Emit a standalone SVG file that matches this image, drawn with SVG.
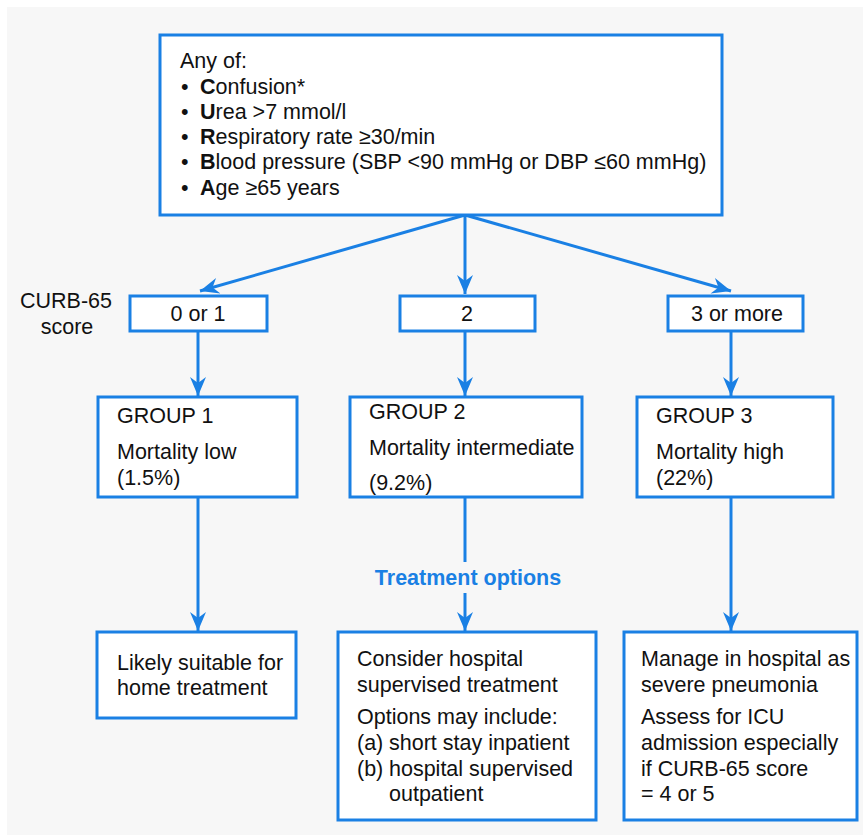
<svg xmlns="http://www.w3.org/2000/svg" width="863" height="835" viewBox="0 0 863 835">
<style>
.box{fill:#fff;stroke:#1a80e4;stroke-width:3}
.t{font-family:"Liberation Sans",Arial,sans-serif;font-size:21.5px;fill:#111}
.c{stroke:#1a80e4;stroke-width:3;fill:none}
.lbl{font-family:"Liberation Sans",Arial,sans-serif;font-size:21.5px;font-weight:bold;fill:#1a80e4}
</style>
<defs>
<marker id="ah" markerUnits="userSpaceOnUse" markerWidth="24" markerHeight="20" refX="20" refY="8" orient="auto">
<path d="M20,8 L1,0 L7,8 L1,16 Z" fill="#1a80e4"/>
</marker>
</defs>
<rect x="0" y="0" width="863" height="835" fill="#fff"/>
<rect x="7" y="7" width="856" height="828" fill="#f7f7f7"/>

<g id="connectors">
<line class="c" x1="465" y1="215" x2="200" y2="291" marker-end="url(#ah)"/>
<line class="c" x1="465" y1="215" x2="465" y2="294" marker-end="url(#ah)"/>
<line class="c" x1="465" y1="215" x2="731" y2="291" marker-end="url(#ah)"/>
<line class="c" x1="198" y1="331" x2="198" y2="396" marker-end="url(#ah)"/>
<line class="c" x1="465" y1="331" x2="465" y2="396" marker-end="url(#ah)"/>
<line class="c" x1="731" y1="331" x2="731" y2="396" marker-end="url(#ah)"/>
<line class="c" x1="198" y1="497" x2="198" y2="631" marker-end="url(#ah)"/>
<line class="c" x1="465" y1="497" x2="465" y2="562"/>
<line class="c" x1="465" y1="593" x2="465" y2="631" marker-end="url(#ah)"/>
<line class="c" x1="731" y1="497" x2="731" y2="631" marker-end="url(#ah)"/>
<text class="lbl" x="468" y="585" text-anchor="middle">Treatment options</text>
</g>

<g id="criteria">
<rect class="box" x="160" y="35" width="562" height="180"/>
<text class="t" x="180" y="68">Any of:</text>
<text class="t" x="181" y="94">•</text>
<text class="t" x="200" y="94"><tspan font-weight="bold">C</tspan>onfusion*</text>
<text class="t" x="181" y="119">•</text>
<text class="t" x="200" y="119"><tspan font-weight="bold">U</tspan>rea &gt;7 mmol/l</text>
<text class="t" x="181" y="144">•</text>
<text class="t" x="200" y="144"><tspan font-weight="bold">R</tspan>espiratory rate ≥30/min</text>
<text class="t" x="181" y="169">•</text>
<text class="t" x="200" y="169"><tspan font-weight="bold">B</tspan>lood pressure (SBP &lt;90 mmHg or DBP ≤60 mmHg)</text>
<text class="t" x="181" y="195">•</text>
<text class="t" x="200" y="195"><tspan font-weight="bold">A</tspan>ge ≥65 years</text>
</g>

<g id="score-label">
<text class="t" x="66" y="308" text-anchor="middle">CURB-65</text>
<text class="t" x="67" y="334" text-anchor="middle">score</text>
</g>

<g id="score01">
<rect class="box" x="130" y="296" width="137" height="35"/>
<text class="t" x="198" y="321" text-anchor="middle">0 or 1</text>
</g>
<g id="score2">
<rect class="box" x="400" y="296" width="135" height="35"/>
<text class="t" x="467" y="321" text-anchor="middle">2</text>
</g>
<g id="score3">
<rect class="box" x="668" y="296" width="135" height="35"/>
<text class="t" x="737" y="321" text-anchor="middle">3 or more</text>
</g>

<g id="group1">
<rect class="box" x="98" y="397" width="199" height="100"/>
<text class="t" x="117" y="423">GROUP  1</text>
<text class="t" x="117" y="459">Mortality low</text>
<text class="t" x="117" y="485">(1.5%)</text>
</g>
<g id="group2">
<rect class="box" x="350" y="397" width="232" height="100"/>
<text class="t" x="369" y="419">GROUP  2</text>
<text class="t" x="369" y="455">Mortality intermediate</text>
<text class="t" x="369" y="490">(9.2%)</text>
</g>
<g id="group3">
<rect class="box" x="637" y="397" width="196" height="100"/>
<text class="t" x="656" y="423">GROUP  3</text>
<text class="t" x="656" y="459">Mortality high</text>
<text class="t" x="656" y="485">(22%)</text>
</g>

<g id="home">
<rect class="box" x="97" y="632" width="199" height="86"/>
<text class="t" x="117" y="670">Likely suitable for</text>
<text class="t" x="117" y="695">home treatment</text>
</g>
<g id="hospital">
<rect class="box" x="338" y="632" width="258" height="188"/>
<text class="t" x="357" y="666">Consider hospital</text>
<text class="t" x="357" y="692">supervised treatment</text>
<text class="t" x="357" y="724">Options may include:</text>
<text class="t" x="357" y="750">(a)</text>
<text class="t" x="389" y="750">short stay inpatient</text>
<text class="t" x="357" y="776">(b)</text>
<text class="t" x="389" y="776">hospital supervised</text>
<text class="t" x="389" y="801">outpatient</text>
</g>
<g id="severe">
<rect class="box" x="624" y="632" width="233" height="188"/>
<text class="t" x="641" y="666">Manage in hospital as</text>
<text class="t" x="641" y="692">severe pneumonia</text>
<text class="t" x="641" y="724">Assess for ICU</text>
<text class="t" x="641" y="750">admission especially</text>
<text class="t" x="641" y="776">if CURB-65 score</text>
<text class="t" x="641" y="801">= 4 or 5</text>
</g>
</svg>
